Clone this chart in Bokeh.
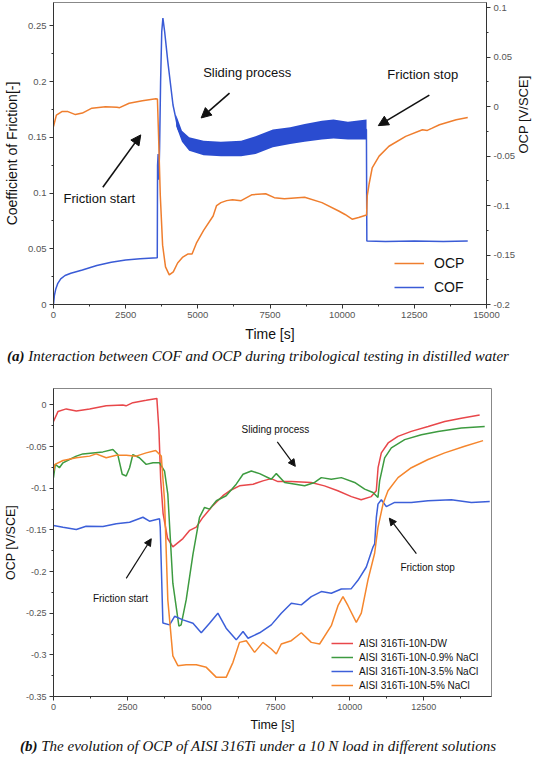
import math
from bokeh.plotting import figure
from bokeh.models import (Range1d, LinearAxis, FixedTicker, CustomJSTickFormatter, Arrow,
                          NormalHead, Label, Legend, LegendItem, Div)
from bokeh.layouts import column
from bokeh.embed import file_html
from bokeh.resources import INLINE

# ---------------- data: panel (a) ----------------
cof_t = [0, 30, 80, 150, 250, 400, 600, 1000, 1500, 2000,
         2500, 3000, 3595, 3605, 3625, 3650, 3675, 3710, 3750, 3790,
         3850, 3960, 4140, 4310, 4600, 5200, 6000, 7000, 7600, 8500,
         9500, 10200, 10840, 10855, 11500, 12500, 13500, 14350]
cof = [0, 0.008, 0.014, 0.019, 0.023, 0.026, 0.028, 0.031, 0.035, 0.038,
       0.040, 0.041, 0.042, 0.125, 0.135, 0.112, 0.14, 0.2, 0.245, 0.257,
       0.245, 0.218, 0.179, 0.158, 0.143, 0.14, 0.14, 0.143, 0.149, 0.153,
       0.158, 0.156, 0.157, 0.057, 0.0565, 0.057, 0.0565, 0.057]

band_t = [4250, 4450, 4700, 5200, 5800, 6500, 7000, 7600, 8200, 8700, 9300, 9700, 10200, 10845]
band_lo = [0.160, 0.146, 0.138, 0.134, 0.133, 0.133, 0.135, 0.141, 0.144, 0.146, 0.148, 0.149, 0.148, 0.148]
band_hi = [0.170, 0.156, 0.150, 0.147, 0.146, 0.147, 0.151, 0.157, 0.159, 0.162, 0.165, 0.166, 0.164, 0.166]

ocp_t = [0, 100, 290, 500, 760, 1000, 1330, 1800, 2200, 2290,
         2620, 3080, 3545, 3600, 3640, 3700, 3780, 3880, 4010, 4150,
         4300, 4480, 4650, 4800, 4950, 5200, 5530, 5650, 5800, 6000,
         6200, 6500, 6880, 7350, 7650, 8000, 8700, 9300, 9880, 10100,
         10345, 10570, 10845, 10870, 10930, 11040, 11280, 11620, 12200, 12780,
         12950, 13100, 13370, 13950, 14350]
ocp = [-0.020, -0.0085, -0.005, -0.005, -0.008, -0.0065, -0.0015, 0.0, -0.0005, -0.001,
       0.0035, 0.006, 0.008, 0.0078, -0.03, -0.09, -0.14, -0.162, -0.170, -0.167,
       -0.158, -0.152, -0.149, -0.149, -0.138, -0.125, -0.1105, -0.100, -0.097, -0.095,
       -0.094, -0.095, -0.089, -0.088, -0.092, -0.093, -0.0915, -0.097, -0.1055, -0.109,
       -0.1138, -0.112, -0.1095, -0.09, -0.0787, -0.062, -0.050, -0.040, -0.030, -0.0234,
       -0.024, -0.022, -0.0183, -0.0133, -0.011]

cof_ticks = [0, 0.05, 0.1, 0.15, 0.2, 0.25]
ocp_ticks_a = [-0.2, -0.15, -0.1, -0.05, 0, 0.05, 0.1]
time_ticks_a = [0, 2500, 5000, 7500, 10000, 12500, 15000]

# ---------------- data: panel (b) ----------------
red_t = [0, 150, 430, 770, 1220, 1780, 2340, 2450, 2680, 3130,
         3490, 3560, 3620, 3700, 3850, 4030, 4370, 4600, 4820, 5050,
         5380, 5720, 5950, 6280, 6740, 7070, 7350, 7580, 8030, 8700,
         9150, 9600, 10060, 10390, 10730, 10900, 10960, 11070, 11300, 11630,
         12080, 12650, 13210, 13770, 14390]
red = [-0.0198, -0.0079, -0.0047, -0.0071, -0.0047, -0.0008, 0.0, -0.001, 0.0028, 0.0056,
       0.0079, -0.03, -0.09, -0.13, -0.16, -0.1704, -0.1604, -0.1505, -0.1466, -0.1347,
       -0.1208, -0.1089, -0.1030, -0.0971, -0.0951, -0.0911, -0.0884, -0.0920, -0.092, -0.093,
       -0.0971, -0.103, -0.110, -0.1137, -0.110, -0.103, -0.0753, -0.0575, -0.0456, -0.0377,
       -0.0317, -0.0258, -0.0198, -0.0158, -0.0119]

green_t = [0, 60, 200, 320, 540, 770, 990, 1330, 1670, 2005,
           2170, 2320, 2455, 2570, 2680, 2900, 3130, 3360, 3580, 3750,
           3860, 4030, 4235, 4310, 4480, 4710, 4930, 5100, 5270, 5500,
           5830, 6170, 6400, 6680, 6960, 7354, 7524, 7805, 8480, 8817,
           9043, 9381, 9719, 10169, 10507, 10788, 10957, 11013, 11182, 11408,
           11858, 12422, 12985, 13773, 14561]
green = [-0.0872, -0.0713, -0.0753, -0.0694, -0.0654, -0.0614, -0.0587, -0.0575, -0.0563, -0.0535,
         -0.0595, -0.0832, -0.0852, -0.0753, -0.0595, -0.0634, -0.0713, -0.0694, -0.0694, -0.0793,
         -0.107, -0.214, -0.2656, -0.264, -0.234, -0.179, -0.135, -0.123, -0.125, -0.115,
         -0.109, -0.0951, -0.0832, -0.0793, -0.0824, -0.0892, -0.0824, -0.093, -0.097, -0.093,
         -0.0872, -0.0892, -0.0872, -0.093, -0.101, -0.105, -0.111, -0.0911, -0.0634, -0.0515,
         -0.0416, -0.0357, -0.0317, -0.0277, -0.0258]

blue_t = [0, 320, 770, 1100, 1670, 2120, 2570, 3020, 3240, 3580,
          3604, 3694, 3920, 4090, 4370, 4710, 4990, 5270, 5550, 5830,
          6170, 6400, 6570, 6960, 7355, 7692, 8030, 8368, 8705, 9043,
          9381, 9719, 10056, 10281, 10563, 10788, 10844, 10901, 10957, 11070,
          11239, 11520, 12084, 12647, 13435, 14110, 14730]
blue = [-0.1447, -0.1467, -0.1494, -0.1455, -0.146, -0.1427, -0.1407, -0.1348, -0.1395, -0.1367,
        -0.1467, -0.2617, -0.264, -0.2537, -0.258, -0.262, -0.2735, -0.262, -0.250, -0.268,
        -0.282, -0.272, -0.280, -0.2735, -0.264, -0.250, -0.238, -0.240, -0.230, -0.224,
        -0.226, -0.221, -0.2205, -0.2105, -0.1945, -0.1706, -0.1667, -0.135, -0.119, -0.1137,
        -0.122, -0.117, -0.117, -0.115, -0.1137, -0.117, -0.116]

orange_t = [0, 50, 320, 770, 1220, 1440, 1780, 2120, 2460, 2790,
            3130, 3450, 3640, 3750, 3860, 4030, 4200, 4480, 4820, 5160,
            5500, 5830, 6060, 6280, 6510, 6790, 7070, 7355, 7524, 7692,
            8030, 8368, 8705, 8986, 9381, 9606, 9775, 9944, 10225, 10394,
            10619, 10844, 10957, 11126, 11295, 11633, 12084, 12647, 13210, 13885,
            14505]
orange = [-0.0793, -0.0713, -0.0666, -0.0634, -0.0614, -0.0587, -0.0634, -0.0603, -0.0603, -0.0614,
          -0.0575, -0.0547, -0.0614, -0.115, -0.234, -0.3013, -0.313, -0.312, -0.312, -0.315,
          -0.327, -0.327, -0.309, -0.285, -0.283, -0.297, -0.285, -0.293, -0.299, -0.287,
          -0.283, -0.2735, -0.285, -0.287, -0.265, -0.241, -0.230, -0.241, -0.261, -0.250,
          -0.210, -0.178, -0.147, -0.119, -0.103, -0.0872, -0.0753, -0.0654, -0.0575, -0.0495,
          -0.0428]

series_b_labels = ["AISI 316Ti-10N-DW", "AISI 316Ti-10N-0.9% NaCl",
                   "AISI 316Ti-10N-3.5% NaCl", "AISI 316Ti-10N-5% NaCl"]
ocp_ticks_b = [-0.35, -0.3, -0.25, -0.2, -0.15, -0.1, -0.05, 0]
time_ticks_b = [0, 2500, 5000, 7500, 10000, 12500]

caption_a = "Interaction between COF and OCP during tribological testing in distilled water"
caption_b = "The evolution of OCP of AISI 316Ti under a 10 N load in different solutions"

# ---------------- styling helpers ----------------
SANS = "Liberation Sans"
FMT = "return String(parseFloat(tick.toFixed(3)))"


def mids(t, extra=()):
    return [(a + b) / 2 for a, b in zip(t[:-1], t[1:])] + list(extra)


def style_axis(ax, ticks, minor, label_size, tick_size):
    ax.ticker = FixedTicker(ticks=ticks, minor_ticks=minor)
    ax.formatter = CustomJSTickFormatter(code=FMT)
    ax.axis_line_color = "#333333"
    ax.major_tick_line_color = "#333333"
    ax.minor_tick_line_color = "#333333"
    ax.major_tick_in = 0
    ax.major_tick_out = 4
    ax.minor_tick_in = 0
    ax.minor_tick_out = 2
    ax.major_label_text_font = SANS
    ax.major_label_text_font_size = tick_size
    ax.major_label_text_color = "#555555"
    ax.major_label_standoff = 3
    ax.axis_label_text_font = SANS
    ax.axis_label_text_font_size = label_size
    ax.axis_label_text_font_style = "normal"
    ax.axis_label_text_color = "#111111"
    ax.axis_label_standoff = 5


def add_note(p, x, y, text, size, y_range_name="default"):
    p.add_layout(Label(x=x, y=y, text=text, text_font=SANS, text_font_size=size,
                       text_color="#111111", text_baseline="middle", text_align="left",
                       y_range_name=y_range_name))


def add_arrow(p, xs, ys, xe, ye, size, width):
    p.add_layout(Arrow(end=NormalHead(size=size, fill_color="#111111", line_color="#111111"),
                       x_start=xs, y_start=ys, x_end=xe, y_end=ye,
                       line_color="#111111", line_width=width))


# ---------------- panel (a) ----------------
C_BLUE = "#3a5bd6"
C_BAND = "#2a4cd0"
C_ORANGE = "#ef7e2e"

p1 = figure(frame_width=433, frame_height=302, x_range=Range1d(0, 15000), y_range=Range1d(0, 0.271),
            output_backend="svg", toolbar_location=None,
            min_border_left=50, min_border_right=0, min_border_top=2, min_border_bottom=0)
p1.extra_y_ranges = {"ocp": Range1d(-0.2, 0.1053)}
p1.xgrid.visible = False
p1.ygrid.visible = False
p1.outline_line_color = "#888888"
p1.background_fill_color = "white"

r_cof = p1.line(cof_t, cof, line_color=C_BLUE, line_width=1.5)
p1.varea(x=band_t, y1=band_lo, y2=band_hi, fill_color=C_BAND, fill_alpha=1.0)
r_ocp = p1.line(ocp_t, ocp, line_color=C_ORANGE, line_width=1.5, y_range_name="ocp")

ax_r = LinearAxis(y_range_name="ocp", axis_label="OCP [V/SCE]")
p1.add_layout(ax_r, "right")
style_axis(p1.xaxis[0], time_ticks_a, mids(time_ticks_a), "14px", "9.5px")
style_axis(p1.yaxis[0], cof_ticks, mids(cof_ticks), "14px", "9.5px")
style_axis(ax_r, ocp_ticks_a, mids(ocp_ticks_a), "13px", "9.5px")
ax_r.axis_label_orientation = math.pi / 2
p1.xaxis[0].axis_label = "Time [s]"
p1.yaxis[0].axis_label = "Coefficient of Friction[-]"

leg1 = Legend(items=[LegendItem(label="OCP", renderers=[r_ocp]),
                     LegendItem(label="COF", renderers=[r_cof])],
              location=(336, 2), glyph_width=30, glyph_height=20, label_height=20,
              spacing=4, padding=5, label_standoff=10,
              label_text_font=SANS, label_text_font_size="14px", label_text_color="#111111",
              background_fill_alpha=0, border_line_alpha=0)
p1.add_layout(leg1, "center")

add_note(p1, 5185, 0.208, "Sliding process", "13px")
add_arrow(p1, 6098, 0.1897, 5115, 0.1674, 10, 1.6)
add_note(p1, 349, 0.0951, "Friction start", "13px")
add_arrow(p1, 1709, 0.1052, 3023, 0.1522, 10, 1.6)
add_note(p1, 11566, 0.2063, "Friction stop", "13px")
add_arrow(p1, 13020, 0.1879, 11252, 0.1605, 10, 1.6)

cap_style = {"font-family": "'Liberation Serif'", "font-style": "italic", "font-size": "15px",
             "text-align": "center", "color": "#111111", "line-height": "24px"}
div1 = Div(text="<b>(a)</b> " + caption_a, width=516, height=24, styles=cap_style, margin=(0, 0, 0, 0))

# ---------------- panel (b) ----------------
p2 = figure(frame_width=438, frame_height=308, x_range=Range1d(0, 14790), y_range=Range1d(-0.35, 0.0198),
            output_backend="svg", toolbar_location=None,
            min_border_left=49, min_border_right=10, min_border_top=20, min_border_bottom=0)
p2.xgrid.visible = False
p2.ygrid.visible = False
p2.outline_line_color = "#888888"

cols_b = ["#e8474a", "#3d9b40", "#3c5fd9", "#f5862d"]
rs = []
for xs, ys, c in zip([red_t, green_t, blue_t, orange_t], [red, green, blue, orange], cols_b):
    rs.append(p2.line(xs, ys, line_color=c, line_width=1.5))

style_axis(p2.xaxis[0], time_ticks_b, mids(time_ticks_b, [13750]), "12.5px", "9px")
style_axis(p2.yaxis[0], ocp_ticks_b, mids(ocp_ticks_b), "12.5px", "9px")
p2.xaxis[0].axis_label = "Time [s]"
p2.yaxis[0].axis_label = "OCP [V/SCE]"

leg2 = Legend(items=[LegendItem(label=l, renderers=[r]) for l, r in zip(series_b_labels, rs)],
              location=(274, 0), glyph_width=22, glyph_height=14, label_height=14,
              spacing=0, padding=4, label_standoff=6,
              label_text_font=SANS, label_text_font_size="10px", label_text_color="#111111",
              background_fill_alpha=0, border_line_alpha=0)
p2.add_layout(leg2, "center")

add_note(p2, 6348, -0.0297, "Sliding process", "10px")
add_arrow(p2, 7557, -0.0444, 8165, -0.0737, 7, 1.2)
add_note(p2, 1331, -0.2323, "Friction start", "10px")
add_arrow(p2, 2456, -0.2081, 3301, -0.1606, 7, 1.2)
add_note(p2, 11713, -0.1954, "Friction stop", "10px")
add_arrow(p2, 12253, -0.1784, 11341, -0.1359, 7, 1.2)

div2 = Div(text="<b>(b)</b> " + caption_b, width=516, height=24, styles=cap_style, margin=(0, 0, 0, 0))

layout = column(p1, div1, p2, div2, spacing=0)
open("out.html", "w").write(file_html(layout, INLINE))
